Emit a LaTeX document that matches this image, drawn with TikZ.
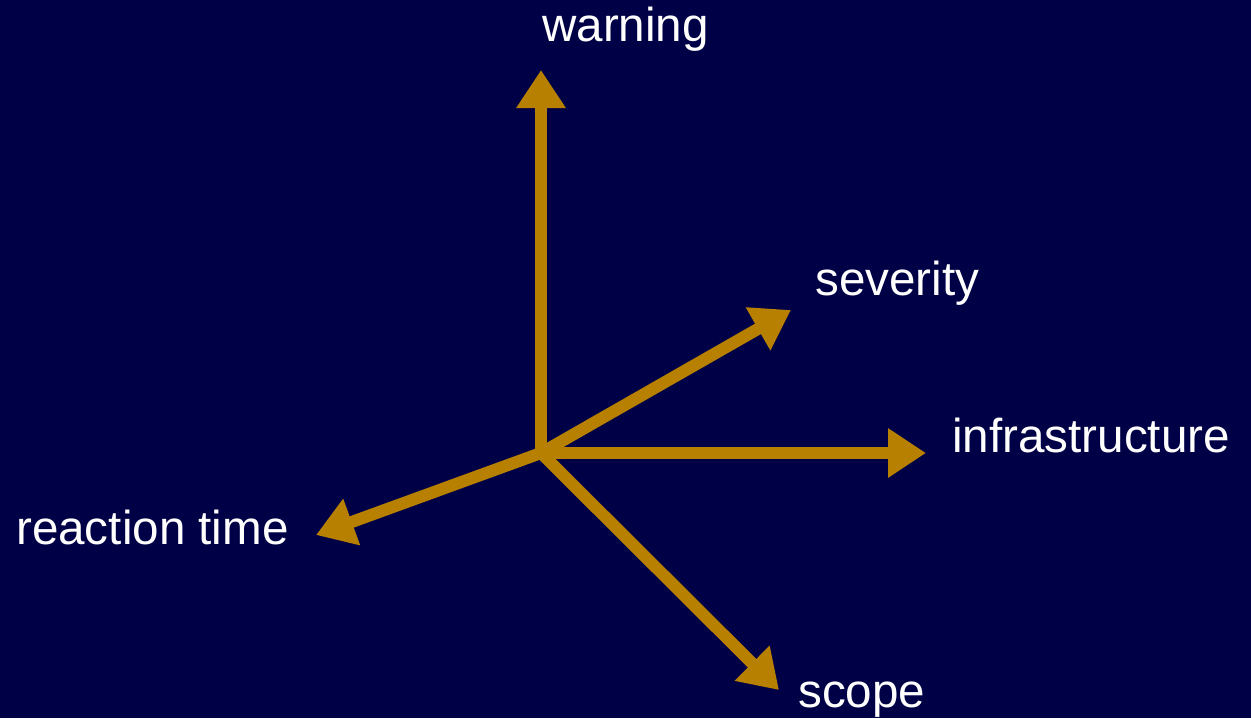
\documentclass[tikz,border=0pt]{standalone}
\usepackage{fontspec}
\setmainfont{Liberation Sans}
\usetikzlibrary{arrows.meta}
\definecolor{bgnavy}{HTML}{000046}
\definecolor{axisgold}{HTML}{B88000}
\begin{document}
\begin{tikzpicture}[x=1pt,y=-1pt,
  axis/.style={draw=axisgold,line width=12pt,-{Triangle[length=38pt,width=47pt]}},
  lbl/.style={text=white,font=\fontsize{47.6}{52}\selectfont,inner sep=0pt,anchor=base west}]
\fill[bgnavy] (0,0) rectangle (1251,718);
\useasboundingbox (0,0) rectangle (1251,718);
\coordinate (O) at (541,453);
\coordinate (tw) at (541,70);
\coordinate (ts) at (791,310);
\coordinate (ti) at (926,453);
\coordinate (tr) at (316,535);
\coordinate (tc) at (779,690);
\draw[axis] (O) -- (tw);
\draw[axis] (O) -- (ts);
\draw[axis] (O) -- (ti);
\draw[axis] (O) -- (tr);
\draw[axis] (O) -- (tc);
\node[lbl] (lw) at (542,41) {warning};
\node[lbl] (ls) at (815,295) {severity};
\node[lbl] (li) at (952,452) {infrastructure};
\node[lbl] (lr) at (16,544) {reaction time};
\node[lbl] (lc) at (798,707) {scope};
\end{tikzpicture}
\end{document}
